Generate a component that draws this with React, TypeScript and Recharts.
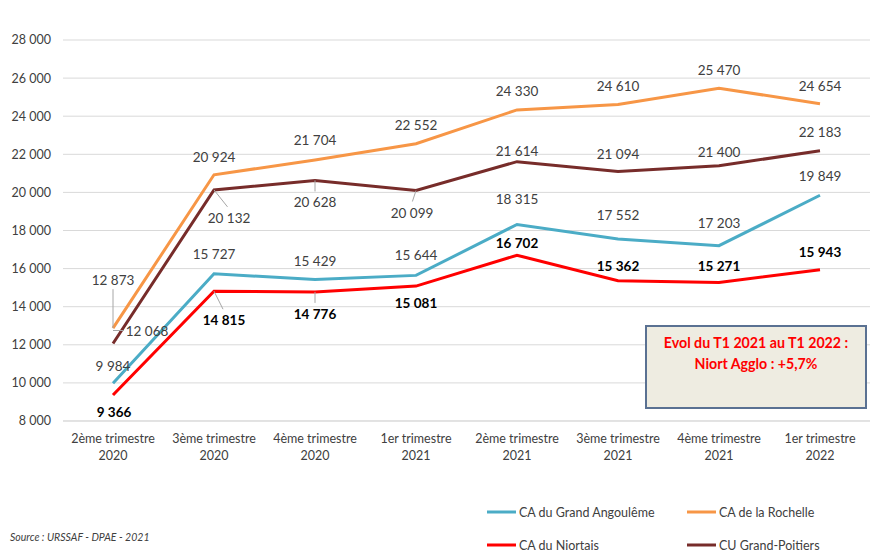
import { LineChart, Line, XAxis, YAxis, CartesianGrid, LabelList } from 'recharts';

const quarters = [
  '2ème trimestre|2020',
  '3ème trimestre|2020',
  '4ème trimestre|2020',
  '1er trimestre|2021',
  '2ème trimestre|2021',
  '3ème trimestre|2021',
  '4ème trimestre|2021',
  '1er trimestre|2022',
];

const angouleme = [9984, 15727, 15429, 15644, 18315, 17552, 17203, 19849];
const rochelle = [12873, 20924, 21704, 22552, 24330, 24610, 25470, 24654];
const niortais = [9366, 14815, 14776, 15081, 16702, 15362, 15271, 15943];
const poitiers = [12068, 20132, 20628, 20099, 21614, 21094, 21400, 22183];

const yTicks = [8000, 10000, 12000, 14000, 16000, 18000, 20000, 22000, 24000, 26000, 28000];

// label offsets [dx, dy, leader]
const angOff: [number, number, boolean][] = [[0, -17, false], [0, -20, false], [0, -18, false], [0, -20, false], [0, -25, false], [0, -24, false], [0, -23, false], [0, -19, false]];
const rocOff: [number, number, boolean][] = [[0, -48, true], [0, -18, false], [0, -20, false], [0, -19, false], [0, -19, false], [0, -19, false], [0, -18, false], [0, -18, false]];
const nioOff: [number, number, boolean][] = [[1, 17, false], [10, 29, true], [0, 22, true], [0, 17, false], [0, -12, false], [0, -15, false], [0, -16, false], [0, -18, false]];
const poiOff: [number, number, boolean][] = [[34, -13, true], [15, 28, true], [0, 22, true], [-4, 22, true], [0, -11, false], [0, -18, false], [0, -14, false], [0, -19, false]];

const data = quarters.map((q, i) => ({
  q,
  angouleme: angouleme[i],
  rochelle: rochelle[i],
  niortais: niortais[i],
  poitiers: poitiers[i],
}));

const FONT = 'Lato, "Open Sans", sans-serif';
const fmt = (v: number) => v.toString().replace(/\B(?=(\d{3})+(?!\d))/g, ' ');

const makeLabel = (offs: [number, number, boolean][], bold: boolean) => (props: any) => {
  const { x, y, value, index } = props;
  const [dx, dy, leader] = offs[index];
  const tx = x + dx;
  const ty = y + dy;
  let x1 = x;
  let y1 = y;
  let x2 = tx - dx * 0.1;
  let y2 = dy > 0 ? ty - 11 : ty + 9;
  if (Math.abs(dx) > 25 && Math.abs(dy) < 20) {
    y1 = ty;
    x2 = tx - 23;
    y2 = ty;
  }
  return (
    <g>
      {leader && <line x1={x1} y1={y1} x2={x2} y2={y2} stroke="#a6a6a6" strokeWidth={1} />}
      <text
        x={tx}
        y={ty}
        textAnchor="middle"
        dominantBaseline="central"
        fontFamily={FONT}
        fontSize={13.5}
        fontWeight={bold ? 700 : 400}
        fill={bold ? '#000000' : '#404040'}
      >
        {fmt(value)}
      </text>
    </g>
  );
};

const XTick = (props: any) => {
  const { x, y, payload } = props;
  const [a, b] = String(payload.value).split('|');
  return (
    <text x={x} y={y} textAnchor="middle" fontFamily={FONT} fontSize={12.5} fill="#404040">
      <tspan x={x} dy={14}>{a}</tspan>
      <tspan x={x} dy={17}>{b}</tspan>
    </text>
  );
};

const legendItems = [
  { name: 'CA du Grand Angoulême', color: '#4bacc6', x: 487, y: 512 },
  { name: 'CA de la Rochelle', color: '#f79646', x: 687, y: 512 },
  { name: 'CA du Niortais', color: '#ff0000', x: 487, y: 545 },
  { name: 'CU Grand-Poitiers', color: '#772c2a', x: 687, y: 545 },
];

export default function App() {
  return (
    <div style={{ position: 'absolute', left: 0, top: 0, width: 870, height: 554, background: '#fff', fontFamily: FONT }}>
      <LineChart width={870} height={500} data={data} margin={{ top: 40, right: 0, bottom: 29, left: 8 }}>
        <CartesianGrid vertical={false} stroke="#d9d9d9" />
        <XAxis
          dataKey="q"
          tick={<XTick />}
          tickLine={false}
          axisLine={{ stroke: '#d9d9d9' }}
          height={50}
          interval={0}
          padding={{ left: 50, right: 50 }}
        />
        <YAxis
          domain={[8000, 28000]}
          ticks={yTicks}
          tickFormatter={fmt}
          tickLine={false}
          axisLine={false}
          width={55}
          tickMargin={6}
          tick={{ fontFamily: FONT, fontSize: 12.5, fill: '#404040' }}
        />
        <Line dataKey="rochelle" stroke="#f79646" strokeWidth={3} dot={false} isAnimationActive={false}>
          <LabelList dataKey="rochelle" content={makeLabel(rocOff, false)} />
        </Line>
        <Line dataKey="poitiers" stroke="#772c2a" strokeWidth={3} dot={false} isAnimationActive={false}>
          <LabelList dataKey="poitiers" content={makeLabel(poiOff, false)} />
        </Line>
        <Line dataKey="angouleme" stroke="#4bacc6" strokeWidth={3} dot={false} isAnimationActive={false}>
          <LabelList dataKey="angouleme" content={makeLabel(angOff, false)} />
        </Line>
        <Line dataKey="niortais" stroke="#ff0000" strokeWidth={3} dot={false} isAnimationActive={false}>
          <LabelList dataKey="niortais" content={makeLabel(nioOff, true)} />
        </Line>
      </LineChart>
      <div
        style={{
          position: 'absolute',
          left: 645,
          top: 325,
          width: 222,
          height: 84,
          background: '#eeece1',
          border: '2px solid #5a7192',
          color: '#ff0000',
          fontWeight: 700,
          fontSize: 14.2,
          textAlign: 'center',
          lineHeight: '21px',
          paddingTop: 5,
          boxSizing: 'border-box',
        }}
      >
        Evol du T1 2021 au T1 2022 :<br />Niort Agglo : +5,7%
      </div>
      <svg width={870} height={554} style={{ position: 'absolute', left: 0, top: 0, pointerEvents: 'none' }}>
        {legendItems.map((it) => (
          <g key={it.name}>
            <line x1={it.x} y1={it.y} x2={it.x + 29} y2={it.y} stroke={it.color} strokeWidth={3} />
            <text x={it.x + 32} y={it.y} dominantBaseline="central" fontFamily={FONT} fontSize={12.5} fill="#404040">
              {it.name}
            </text>
          </g>
        ))}
        <text x={10} y={537} dominantBaseline="central" fontFamily={FONT} fontSize={10.5} fontStyle="italic" fill="#404040">
          Source : URSSAF - DPAE - 2021
        </text>
      </svg>
    </div>
  );
}
